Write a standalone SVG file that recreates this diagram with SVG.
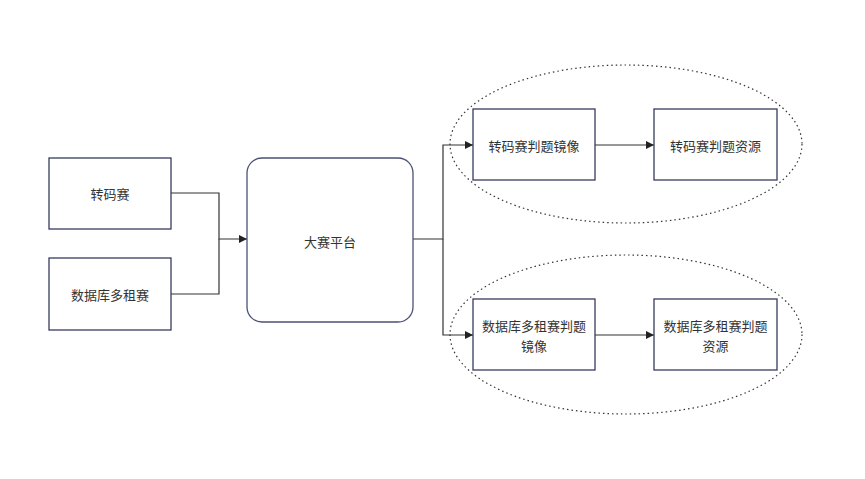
<svg xmlns="http://www.w3.org/2000/svg" width="865" height="479" viewBox="0 0 865 479">
<defs>
<style>
.box{fill:#fff;stroke:#363b5e;stroke-width:1.3}
.rbox{fill:#fff;stroke:#4a5075;stroke-width:1.3}
.grp{fill:none;stroke:#333;stroke-width:1.2;stroke-dasharray:1.5 3}
.ln{fill:none;stroke:#333;stroke-width:1.2}
.t{font-family:"Noto Sans CJK SC","Liberation Sans",sans-serif;font-size:13px;fill:#333;text-anchor:middle;dominant-baseline:central}
</style>
<marker id="ah" viewBox="0 0 10 10" refX="10" refY="5" markerWidth="8" markerHeight="8" markerUnits="userSpaceOnUse" orient="auto">
<path d="M0,0 L10,5 L0,10 z" fill="#222"/>
</marker>
</defs>
<rect width="865" height="479" fill="#fff"/>
<g id="group-top"><ellipse class="grp" cx="626" cy="144" rx="176" ry="79"/></g>
<g id="group-bottom"><ellipse class="grp" cx="626" cy="334.5" rx="176" ry="79.5"/></g>
<g id="connectors">
<path class="ln" d="M171,193 H219 V239 H247" marker-end="url(#ah)"/>
<path class="ln" d="M171,294 H219 V239"/>
<path class="ln" d="M413,239 H443 V145 H473" marker-end="url(#ah)"/>
<path class="ln" d="M443,239 V335 H473" marker-end="url(#ah)"/>
<path class="ln" d="M595,145 H654" marker-end="url(#ah)"/>
<path class="ln" d="M595,335 H654" marker-end="url(#ah)"/>
</g>
<g id="n-zhuanma"><rect class="box" x="49" y="158" width="122" height="71"/><text class="t" x="110" y="193.5">转码赛</text></g>
<g id="n-shujuku"><rect class="box" x="49" y="258" width="122" height="72"/><text class="t" x="110" y="294">数据库多租赛</text></g>
<g id="n-platform"><rect class="rbox" x="247" y="158" width="166" height="164" rx="15"/><text class="t" x="330" y="241">大赛平台</text></g>
<g id="n-zm-image"><rect class="box" x="473" y="109" width="122" height="71"/><text class="t" x="534" y="145">转码赛判题镜像</text></g>
<g id="n-zm-res"><rect class="box" x="654" y="109" width="123" height="71"/><text class="t" x="715.5" y="145">转码赛判题资源</text></g>
<g id="n-db-image"><rect class="box" x="473" y="299" width="122" height="71"/><text class="t" x="534" y="325">数据库多租赛判题</text><text class="t" x="534" y="345">镜像</text></g>
<g id="n-db-res"><rect class="box" x="654" y="299" width="123" height="71"/><text class="t" x="715.5" y="325">数据库多租赛判题</text><text class="t" x="715.5" y="345">资源</text></g>
</svg>
